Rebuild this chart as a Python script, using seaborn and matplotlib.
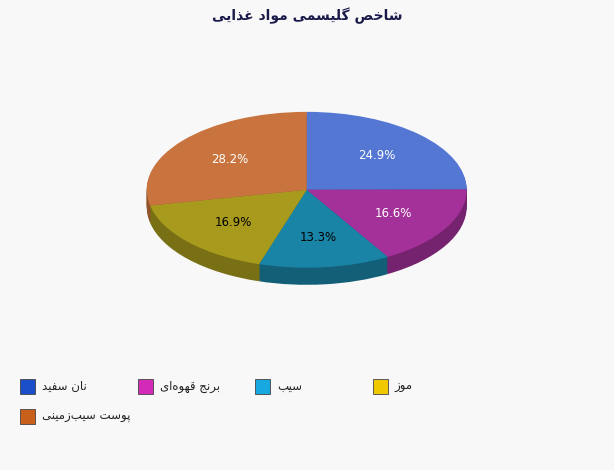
import matplotlib
matplotlib.use("Agg")
import matplotlib.pyplot as plt
import matplotlib.colors as mcolors
import numpy as np
import seaborn as sns

# --- data ---
foods = ["نان سفید", "برنج قهوه‌ای", "سیب", "موز", "پوست سیب‌زمینی"]
glycemic = [75, 50, 40, 51, 85]
pie_colors = ["#5577d4", "#a4309a", "#1a84a6", "#a89a1c", "#c9743f"]
legend_colors = ["#1a4fc9", "#d42ab8", "#18a8e0", "#f0c800", "#c85f1a"]
label_colors = ["white", "white", "black", "black", "white"]
title = "شاخص گلیسمی مواد غذایی"

# minimal Persian shaping (presentation forms), since matplotlib does no shaping
FORMS = {
    "ا": ("\uFE8D", "\uFE8E", None, None), "ب": ("\uFE8F", "\uFE90", "\uFE91", "\uFE92"),
    "پ": ("\uFB56", "\uFB57", "\uFB58", "\uFB59"), "ت": ("\uFE95", "\uFE96", "\uFE97", "\uFE98"),
    "ج": ("\uFE9D", "\uFE9E", "\uFE9F", "\uFEA0"), "خ": ("\uFEA5", "\uFEA6", "\uFEA7", "\uFEA8"),
    "د": ("\uFEA9", "\uFEAA", None, None), "ذ": ("\uFEAB", "\uFEAC", None, None),
    "ر": ("\uFEAD", "\uFEAE", None, None), "ز": ("\uFEAF", "\uFEB0", None, None),
    "س": ("\uFEB1", "\uFEB2", "\uFEB3", "\uFEB4"), "ش": ("\uFEB5", "\uFEB6", "\uFEB7", "\uFEB8"),
    "ص": ("\uFEB9", "\uFEBA", "\uFEBB", "\uFEBC"), "غ": ("\uFECD", "\uFECE", "\uFECF", "\uFED0"),
    "ف": ("\uFED1", "\uFED2", "\uFED3", "\uFED4"), "ق": ("\uFED5", "\uFED6", "\uFED7", "\uFED8"),
    "ل": ("\uFEDD", "\uFEDE", "\uFEDF", "\uFEE0"), "م": ("\uFEE1", "\uFEE2", "\uFEE3", "\uFEE4"),
    "ن": ("\uFEE5", "\uFEE6", "\uFEE7", "\uFEE8"), "ه": ("\uFEE9", "\uFEEA", "\uFEEB", "\uFEEC"),
    "و": ("\uFEED", "\uFEEE", None, None), "ی": ("\uFBFC", "\uFBFD", "\uFBFE", "\uFBFF"),
    "گ": ("\uFB92", "\uFB93", "\uFB94", "\uFB95"),
}


def dual(c):
    return c in FORMS and FORMS[c][2] is not None


def shape(text):
    out = []
    for i, c in enumerate(text):
        if c not in FORMS:
            if c != "\u200c":
                out.append(c)
            continue
        prev = text[i - 1] if i > 0 else ""
        nxt = text[i + 1] if i + 1 < len(text) else ""
        join_prev = dual(prev)
        join_next = dual(c) and nxt in FORMS
        iso, fin, ini, med = FORMS[c]
        if join_prev and join_next:
            out.append(med)
        elif join_prev:
            out.append(fin)
        elif join_next:
            out.append(ini)
        else:
            out.append(iso)
    return "".join(out)[::-1]


sns.set_theme(style="white")
plt.rcParams["font.family"] = ["DejaVu Sans"]

fig = plt.figure(figsize=(6.14, 4.70), dpi=100, facecolor="#f8f8f8")
ax = fig.add_axes([0.239, 0.394, 0.521, 0.368])
ax.set_facecolor("none")

depth = 0.22
for k in np.linspace(depth, 0.01, 14):
    side = [tuple(np.array(mcolors.to_rgb(c)) * 0.72) for c in pie_colors]
    ax.pie(glycemic, colors=side, startangle=90, counterclock=False,
           center=(0, -k), frame=True, wedgeprops=dict(linewidth=0))

wedges, texts, autotexts = ax.pie(
    glycemic, colors=pie_colors, startangle=90, counterclock=False,
    autopct="%.1f%%", pctdistance=0.62, frame=True,
    wedgeprops=dict(linewidth=0), textprops=dict(fontsize=8.5))
for t, col in zip(autotexts, label_colors):
    t.set_color(col)

ax.set_aspect("auto")
ax.set_xlim(-1, 1)
ax.set_ylim(-1 - depth, 1)
ax.axis("off")

fig.text(0.5, 0.966, shape(title), ha="center", va="center",
         fontsize=10, fontweight="bold", color="#1a1a4a")

# legend laid out as a 4-column grid, row by row
for i, (name, col) in enumerate(zip(foods, legend_colors)):
    r, c = divmod(i, 4)
    x0 = (20 + c * 117.5) / 614
    y0 = 1 - (379 + r * 30) / 470
    fig.patches.append(plt.Rectangle((x0, y0 - 15 / 470), 15 / 614, 15 / 470,
                                     transform=fig.transFigure, facecolor=col,
                                     edgecolor="#444444", linewidth=0.6))
    fig.text(x0 + 22 / 614, y0 - 7.5 / 470, shape(name), ha="left", va="center",
             fontsize=8.5, color="#222222")

fig.savefig("out.png", dpi=100, facecolor=fig.get_facecolor())
